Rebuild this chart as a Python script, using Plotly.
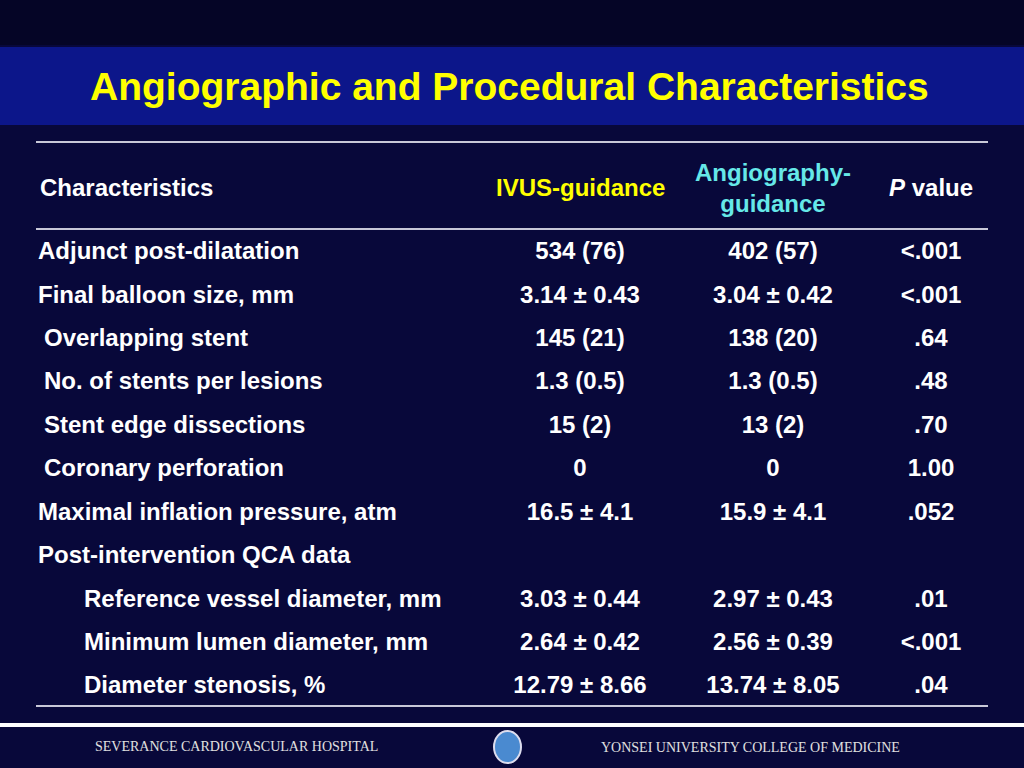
import plotly.graph_objects as go

title = "Angiographic and Procedural Characteristics"
headers = ["Characteristics", "IVUS-guidance", "Angiography-<br>guidance", "<i>P</i> value"]
labels = ["Adjunct post-dilatation", "Final balloon size, mm", "Overlapping stent",
          "No. of stents per lesions", "Stent edge dissections", "Coronary perforation",
          "Maximal inflation pressure, atm", "Post-intervention QCA data",
          "Reference vessel diameter, mm", "Minimum lumen diameter, mm", "Diameter stenosis, %"]
indent = [38, 38, 44, 44, 44, 44, 38, 38, 84, 84, 84]
ivus = ["534 (76)", "3.14 ± 0.43", "145 (21)", "1.3 (0.5)", "15 (2)", "0",
        "16.5 ± 4.1", "", "3.03 ± 0.44", "2.64 ± 0.42", "12.79 ± 8.66"]
angio = ["402 (57)", "3.04 ± 0.42", "138 (20)", "1.3 (0.5)", "13 (2)", "0",
         "15.9 ± 4.1", "", "2.97 ± 0.43", "2.56 ± 0.39", "13.74 ± 8.05"]
pval = ["<.001", "<.001", ".64", ".48", ".70", "1.00", ".052", "", ".01", "<.001", ".04"]
row_y = [253, 297, 340, 383, 427, 470, 514, 557, 601, 644, 687]

font = "Liberation Sans, Arial, sans-serif"
W = "white"
FS = 24
bold = lambda s: f"<b>{s}</b>" if s else s

fig = go.Figure()
fig.add_trace(go.Scatter(x=indent, y=row_y, mode="text", text=[bold(s) for s in labels],
                         textposition="middle right",
                         textfont=dict(family=font, size=FS, color=W)))
for xc, col in [(580, ivus), (773, angio), (931, pval)]:
    fig.add_trace(go.Scatter(x=[xc] * len(col), y=row_y, mode="text", text=[bold(s) for s in col],
                             textposition="middle center",
                             textfont=dict(family=font, size=FS, color=W)))

shapes = [
    dict(type="rect", x0=0, x1=1024, y0=0, y1=768, fillcolor="#08083a", line_width=0, layer="below"),
    dict(type="rect", x0=0, x1=1024, y0=0, y1=45, fillcolor="#050526", line_width=0, layer="below"),
    dict(type="rect", x0=0, x1=1024, y0=47, y1=125, fillcolor="#0c168a", line_width=0, layer="below"),
    dict(type="line", x0=36, x1=988, y0=142, y1=142, line=dict(color="#c8c8d8", width=2)),
    dict(type="line", x0=36, x1=988, y0=229, y1=229, line=dict(color="#c8c8d8", width=2)),
    dict(type="line", x0=36, x1=988, y0=706, y1=706, line=dict(color="#c8c8d8", width=2)),
    dict(type="line", x0=0, x1=1024, y0=725, y1=725, line=dict(color="white", width=4)),
    dict(type="circle", x0=494, x1=521, y0=731, y1=763, fillcolor="#4a8ad0", line=dict(color="#dde", width=2)),
]

ann = [
    dict(x=509, y=86, text=bold(title), font=dict(family=font, size=39, color="#ffff00")),
    dict(x=38, y=187, text=bold(headers[0]), xanchor="left", font=dict(family=font, size=FS, color=W)),
    dict(x=580, y=187, text=bold(headers[1]), font=dict(family=font, size=FS, color="#ffff00")),
    dict(x=773, y=188, text=bold(headers[2]), font=dict(family=font, size=FS, color="#66e8e8")),
    dict(x=931, y=187, text=bold(headers[3]), font=dict(family=font, size=FS, color=W)),
    dict(x=236, y=746, text="SEVERANCE CARDIOVASCULAR HOSPITAL",
         font=dict(family="Liberation Sans Narrow, Liberation Serif, serif", size=14, color="#e0e0e0")),
    dict(x=750, y=747, text="YONSEI UNIVERSITY COLLEGE OF MEDICINE",
         font=dict(family="Liberation Sans Narrow, Liberation Serif, serif", size=14, color="#e0e0e0")),
]
for a in ann:
    a.update(xref="x", yref="y", showarrow=False, yanchor="middle")
    a.setdefault("xanchor", "center")

fig.update_layout(
    width=1024, height=768, margin=dict(l=0, r=0, t=0, b=0),
    paper_bgcolor="#08083a", plot_bgcolor="#08083a", showlegend=False,
    shapes=shapes, annotations=ann,
    xaxis=dict(range=[0, 1024], visible=False, fixedrange=True),
    yaxis=dict(range=[768, 0], visible=False, fixedrange=True),
)
fig.write_html("out.html", config={"displayModeBar": False},
               post_script="document.body.style.margin='0';document.body.style.overflow='hidden';")
